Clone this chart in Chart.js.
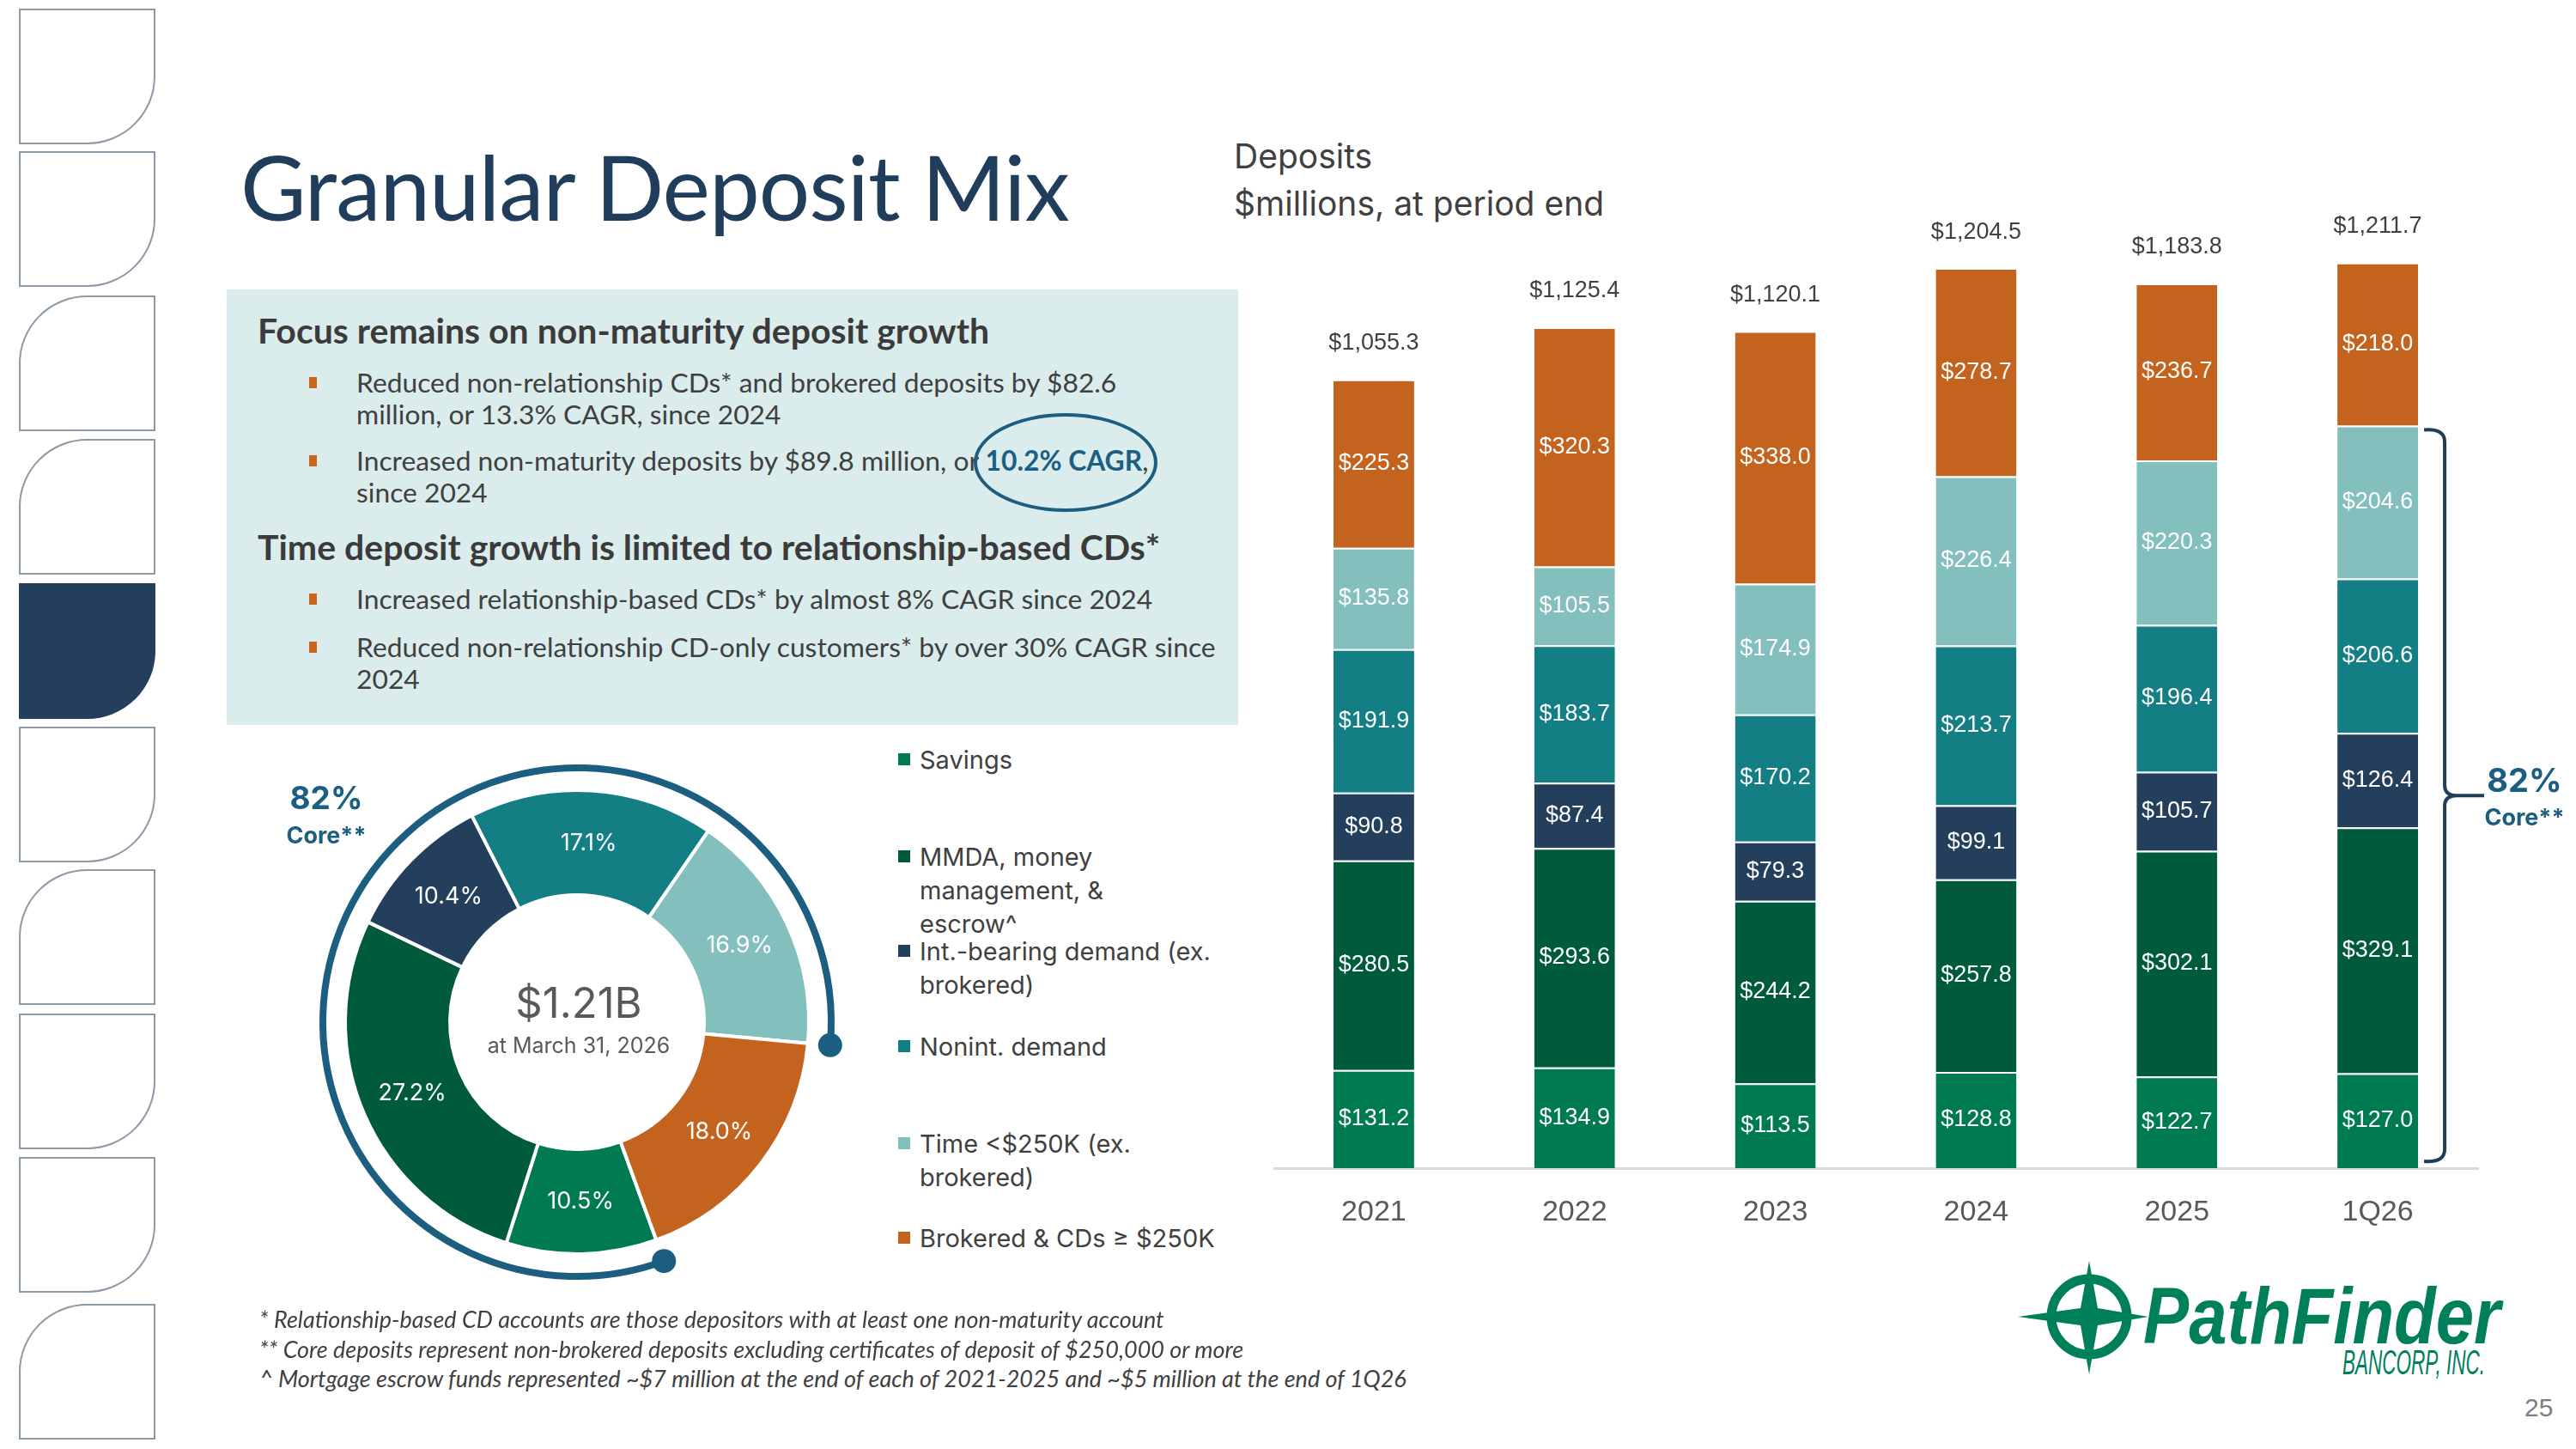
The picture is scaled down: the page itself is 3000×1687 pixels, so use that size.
<!DOCTYPE html>
<html>
<head>
<meta charset="utf-8">
<script src="https://cdn.jsdelivr.net/npm/chart.js@4.4.1/dist/chart.umd.min.js"></script>
<style>
  html, body { margin: 0; padding: 0; background: #fff; }
  #page { position: relative; width: 3000px; height: 1687px; overflow: hidden; font-family: Lato, sans-serif; color: #404040; }
  .abs { position: absolute; white-space: nowrap; }
  #title { left: 280px; top: 161px; font-size: 105px; line-height: 110px; color: #203D5B; letter-spacing: -1px; }
  #box { left: 264px; top: 337px; width: 1178px; height: 507px; background: #DAEDEC; }
  .head { font-weight: 700; font-size: 41px; line-height: 44px; color: #3B3B3B; left: 300px; }
  .bul { font-size: 31.8px; line-height: 37px; color: #404040; left: 415px; }
  .sq { position: absolute; width: 9px; height: 13px; background: #C8651F; left: 360px; }
  #cagr { color: #1D5F82; font-weight: 700; }
  #ellipse { left: 1134px; top: 481px; width: 206px; height: 107px; border: 4px solid #1D5E80; border-radius: 50%; }
  .sub { font-family: Inter, sans-serif; font-size: 39px; line-height: 44px; color: #404040; left: 1437px; }
  .leg { font-family: Inter, sans-serif; font-size: 29px; line-height: 39px; color: #404040; left: 1071px; }
  .legsq { position: absolute; width: 14px; height: 14px; left: 1046px; }
  .core { font-family: Inter, sans-serif; color: #1B5E80; font-weight: 700; text-align: center; }
  .foot { font-style: italic; font-size: 27px; line-height: 30px; color: #404040; left: 302px; }
  canvas { position: absolute; }
</style>
</head>
<body>
<div id="page">
  <svg id="tabs" class="abs" style="left:0;top:0" width="200" height="1687"></svg>

  <div id="title" class="abs">Granular Deposit Mix</div>

  <div id="box" class="abs"></div>
  <div class="abs head" style="top:363px">Focus remains on non-maturity deposit growth</div>
  <div class="sq" style="top:439px"></div>
  <div class="abs bul" style="top:427px">Reduced non-relationship CDs* and brokered deposits by $82.6<br>million, or 13.3% CAGR, since 2024</div>
  <div class="sq" style="top:530px"></div>
  <div class="abs bul" style="top:518px">Increased non-maturity deposits by $89.8 million, or <span id="cagr">10.2% CAGR</span>,<br>since 2024</div>
  <div id="ellipse" class="abs"></div>
  <div class="abs head" style="top:615px">Time deposit growth is limited to relationship-based CDs*</div>
  <div class="sq" style="top:691px"></div>
  <div class="abs bul" style="top:679px">Increased relationship-based CDs* by almost 8% CAGR since 2024</div>
  <div class="sq" style="top:747px"></div>
  <div class="abs bul" style="top:735px">Reduced non-relationship CD-only customers* by over 30% CAGR since<br>2024</div>

  <div class="abs sub" style="top:160px">Deposits</div>
  <div class="abs sub" style="top:215px">$millions, at period end</div>

  <canvas id="donut" width="700" height="700" style="left:322px;top:840px"></canvas>
  <div id="legend"></div>

  <div class="abs core" style="left:320px;top:905px;width:120px;font-size:37px;line-height:48px">82%</div>
  <div class="abs core" style="left:320px;top:956px;width:120px;font-size:27px;line-height:34px">Core**</div>

  <canvas id="bars" width="1517" height="1308" style="left:1483px;top:142px"></canvas>

  <div class="abs core" style="left:2890px;top:884px;width:100px;font-size:38px;line-height:48px">82%</div>
  <div class="abs core" style="left:2880px;top:935px;width:120px;font-size:27px;line-height:34px">Core**</div>

  <div class="abs foot" style="top:1521px">* Relationship-based CD accounts are those depositors with at least one non-maturity account</div>
  <div class="abs foot" style="top:1556px">** Core deposits represent non-brokered deposits excluding certificates of deposit of $250,000 or more</div>
  <div class="abs foot" style="top:1590px">^ Mortgage escrow funds represented ~$7 million at the end of each of 2021-2025 and ~$5 million at the end of 1Q26</div>

  <svg class="abs" style="left:2330px;top:1450px" width="670" height="237">
    <g fill="none" stroke="#00805A" stroke-width="11">
      <circle cx="103" cy="83" r="44"></circle>
    </g>
    <polygon fill="#00805A" points="103,18 113,73 172,83 113,93 103,150 93,93 20,83 93,73"></polygon>
    <text x="166" y="114" textLength="416" lengthAdjust="spacingAndGlyphs" fill="#00805A" font-family="Liberation Sans, Arial, sans-serif" font-weight="700" font-style="italic" font-size="92">PathFinder</text>
    <text x="398" y="150" textLength="166" lengthAdjust="spacingAndGlyphs" fill="#00805A" font-family="Liberation Sans, Arial, sans-serif" font-style="italic" font-size="40">BANCORP, INC.</text>
  </svg>
  <div class="abs" style="left:2940px;top:1622px;font-family:'Liberation Sans',Arial,sans-serif;font-size:30px;line-height:34px;color:#7F7F7F">25</div>
</div>

<script>
// categories and values ($ millions, period end)
var years = ['2021', '2022', '2023', '2024', '2025', '1Q26'];
var savings = [131.2, 134.9, 113.5, 128.8, 122.7, 127.0];
var mmda = [280.5, 293.6, 244.2, 257.8, 302.1, 329.1];
var intBearing = [90.8, 87.4, 79.3, 99.1, 105.7, 126.4];
var nonint = [191.9, 183.7, 170.2, 213.7, 196.4, 206.6];
var timeDep = [135.8, 105.5, 174.9, 226.4, 220.3, 204.6];
var brokered = [225.3, 320.3, 338.0, 278.7, 236.7, 218.0];
var totals = [1055.3, 1125.4, 1120.1, 1204.5, 1183.8, 1211.7];

// mix at March 31, 2026 (%)
var mixPct = [10.5, 27.2, 10.4, 17.1, 16.9, 18.0];
var corePct = 82;
var totalLabel = '$1.21B';
var dateLabel = 'at March 31, 2026';

var seriesNames = ['Savings', 'MMDA, money management, & escrow^', 'Int.-bearing demand (ex. brokered)',
  'Nonint. demand', 'Time <$250K (ex. brokered)', 'Brokered & CDs \u2265 $250K'];
var legendLines = [['Savings'], ['MMDA, money', 'management, &', 'escrow^'], ['Int.-bearing demand (ex.', 'brokered)'],
  ['Nonint. demand'], ['Time <$250K (ex.', 'brokered)'], ['Brokered & CDs \u2265 $250K']];

var colors = ['#007A53', '#005B3E', '#243F5C', '#137E84', '#82BFBD', '#C4631E'];
var seriesValues = [savings, mmda, intBearing, nonint, timeDep, brokered];

// left decorative tabs
var tabTops = [11, 177, 345, 512, 680, 847, 1013, 1181, 1348, 1519];
var tabKinds = ['br', 'br', 'tl', 'tl', 'brf', 'br', 'tl', 'br', 'br', 'tl'];
var svg = document.getElementById('tabs');
tabTops.forEach(function (y, i) {
  var x = 23, w = 157, h = 156, d;
  if (tabKinds[i] === 'tl') {
    d = 'M' + x + ',' + (y + h) + ' V' + (y + h * 0.5) + ' A' + (w * 0.5) + ',' + (h * 0.5) + ' 0 0 1 ' + (x + w * 0.5) + ',' + y +
      ' H' + (x + w) + ' V' + (y + h) + ' Z';
  } else {
    d = 'M' + x + ',' + y + ' H' + (x + w) + ' V' + (y + h * 0.5) + ' A' + (w * 0.5) + ',' + (h * 0.5) + ' 0 0 1 ' + (x + w * 0.5) + ',' + (y + h) +
      ' H' + x + ' Z';
  }
  var p = document.createElementNS('http://www.w3.org/2000/svg', 'path');
  p.setAttribute('d', d);
  p.setAttribute('fill', tabKinds[i] === 'brf' ? '#243F5C' : '#fff');
  p.setAttribute('stroke', tabKinds[i] === 'brf' ? '#243F5C' : '#8C99A6');
  p.setAttribute('stroke-width', '2');
  svg.appendChild(p);
});

// legend for the doughnut
var legendY = [884, 997, 1107, 1218, 1331, 1441];
var legendBox = document.getElementById('legend');
legendLines.forEach(function (lines, i) {
  var sq = document.createElement('div');
  sq.className = 'legsq';
  sq.style.top = (legendY[i] - 7) + 'px';
  sq.style.background = colors[i];
  legendBox.appendChild(sq);
  var t = document.createElement('div');
  t.className = 'abs leg';
  t.style.top = (legendY[i] - 19.5) + 'px';
  lines.forEach(function (ln, k) {
    if (k > 0) t.appendChild(document.createElement('br'));
    t.appendChild(document.createTextNode(ln));
  });
  legendBox.appendChild(t);
});

// doughnut
var donutPlugin = {
  id: 'donutExtras',
  afterDatasetsDraw: function (chart) {
    var ctx = chart.ctx;
    var meta = chart.getDatasetMeta(0);
    var first = meta.data[0];
    var cx = first.x, cy = first.y;
    ctx.save();
    // slice labels
    ctx.fillStyle = '#fff';
    ctx.font = '27px Inter, sans-serif';
    ctx.textAlign = 'center';
    ctx.textBaseline = 'middle';
    meta.data.forEach(function (arc, i) {
      var p = arc.getCenterPoint();
      ctx.fillText(mixPct[i].toFixed(1) + '%', p.x, p.y);
    });
    // center text
    ctx.fillStyle = '#595959';
    ctx.font = '49px Inter, sans-serif';
    ctx.fillText(totalLabel, cx + 2, cy - 20);
    ctx.font = '25px Inter, sans-serif';
    ctx.fillText(dateLabel, cx + 2, cy + 28);
    // core arc
    var a0 = first.startAngle;
    var a1 = a0 + Math.PI * 2 * corePct / 100;
    var r = 296;
    ctx.strokeStyle = '#1B5E80';
    ctx.fillStyle = '#1B5E80';
    ctx.lineWidth = 8;
    ctx.beginPath();
    ctx.arc(cx, cy, r, a0, a1);
    ctx.stroke();
    [a0, a1].forEach(function (a) {
      ctx.beginPath();
      ctx.arc(cx + r * Math.cos(a), cy + r * Math.sin(a), 14, 0, Math.PI * 2);
      ctx.fill();
    });
    ctx.restore();
  }
};

new Chart(document.getElementById('donut').getContext('2d'), {
  type: 'doughnut',
  data: {
    labels: seriesNames,
    datasets: [{
      data: mixPct,
      backgroundColor: colors,
      borderColor: '#fff',
      borderWidth: 4
    }]
  },
  options: {
    responsive: false,
    animation: false,
    radius: 270,
    cutout: '54.8%',
    rotation: 160,
    plugins: { legend: { display: false }, tooltip: { enabled: false } }
  },
  plugins: [donutPlugin]
});

// stacked bars
var barPlugin = {
  id: 'barExtras',
  afterDatasetsDraw: function (chart) {
    var ctx = chart.ctx;
    ctx.save();
    ctx.textAlign = 'center';
    ctx.textBaseline = 'middle';
    ctx.font = '27px "Liberation Sans", Arial, sans-serif';
    ctx.fillStyle = '#fff';
    chart.data.datasets.forEach(function (ds, di) {
      chart.getDatasetMeta(di).data.forEach(function (bar, i) {
        ctx.fillText('$' + ds.data[i].toFixed(1), bar.x, (bar.y + bar.base) / 2);
      });
    });
    // totals
    var topMeta = chart.getDatasetMeta(chart.data.datasets.length - 1);
    ctx.fillStyle = '#404040';
    topMeta.data.forEach(function (bar, i) {
      ctx.fillText('$' + totals[i].toLocaleString('en-US', { minimumFractionDigits: 1, maximumFractionDigits: 1 }), bar.x, bar.y - 42);
    });
    // core bracket on the last period (savings through time deposits)
    var last = years.length - 1;
    var coreTop = chart.getDatasetMeta(4).data[last];
    var coreBase = chart.getDatasetMeta(0).data[last];
    var top = coreTop.y + 5, bot = coreBase.base - 8;
    var mid = (top + bot) / 2;
    var x0 = coreTop.x + coreTop.width / 2 + 7;
    var xv = x0 + 24;
    var xt = x0 + 70;
    ctx.strokeStyle = '#213D58';
    ctx.lineWidth = 4;
    ctx.lineJoin = 'round';
    ctx.beginPath();
    ctx.moveTo(x0, top);
    ctx.quadraticCurveTo(xv, top - 2, xv, top + 14);
    ctx.lineTo(xv, mid - 12);
    ctx.quadraticCurveTo(xv, mid, xv + 14, mid);
    ctx.lineTo(xt, mid);
    ctx.moveTo(xv + 14, mid);
    ctx.quadraticCurveTo(xv, mid, xv, mid + 12);
    ctx.lineTo(xv, bot - 14);
    ctx.quadraticCurveTo(xv, bot + 2, x0, bot);
    ctx.stroke();
    ctx.restore();
  }
};

var barDatasets = seriesNames.map(function (name, i) {
  return {
    label: name,
    data: seriesValues[i],
    backgroundColor: colors[i],
    borderColor: 'rgba(255,255,255,0.3)',
    borderWidth: { top: 2, bottom: 0, left: 0, right: 0 },
    borderSkipped: false,
    categoryPercentage: 1,
    barPercentage: 0.402
  };
});

new Chart(document.getElementById('bars').getContext('2d'), {
  type: 'bar',
  data: { labels: years, datasets: barDatasets },
  options: {
    responsive: false,
    animation: false,
    layout: { padding: { right: 114, left: 0, top: 0, bottom: 0 } },
    plugins: { legend: { display: false }, tooltip: { enabled: false } },
    scales: {
      x: {
        stacked: true,
        grid: { display: false, drawTicks: false },
        border: { display: true, color: '#D9D9D9', width: 3 },
        ticks: { color: '#595959', font: { family: '"Liberation Sans", Arial, sans-serif', size: 34 }, padding: 31 },
        afterFit: function (scale) { scale.height = 90; }
      },
      y: { stacked: true, display: false, min: 0, max: 1400 }
    }
  },
  plugins: [barPlugin]
});
</script>
</body>
</html>
